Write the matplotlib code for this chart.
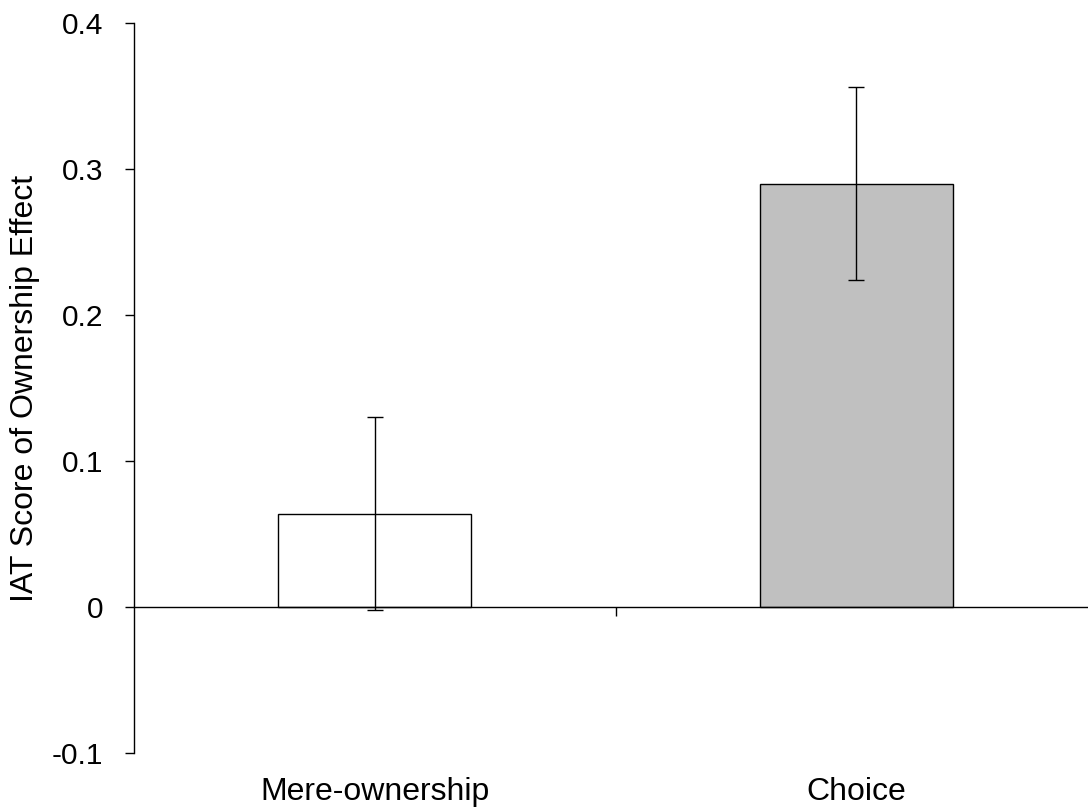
import matplotlib
matplotlib.use("Agg")
import matplotlib.pyplot as plt
import matplotlib.transforms as mtransforms

# Data
categories = ["Mere-ownership", "Choice"]
means = [0.064, 0.290]
errors = [0.066, 0.066]
bar_colors = ["#FFFFFF", "#C0C0C0"]
y_ticks = [-0.1, 0.0, 0.1, 0.2, 0.3, 0.4]
y_tick_labels = ["-0.1", "0", "0.1", "0.2", "0.3", "0.4"]
y_label = "IAT Score of Ownership Effect"

plt.rcParams["font.family"] = ["Liberation Sans", "DejaVu Sans"]
FS_TICK = 21.5
FS_LABEL = 23

fig = plt.figure(figsize=(10.88, 8.11), dpi=100)
ax = fig.add_axes([134 / 1088, 58 / 811, 963 / 1088, 730 / 811])

x = list(range(len(categories)))
ax.bar(x, means, width=0.4, color=bar_colors, edgecolor="black",
       linewidth=1.0, zorder=2)
ax.errorbar(x, means, yerr=errors, fmt="none", ecolor="black",
            elinewidth=1.0, capsize=6, capthick=1.0, zorder=3)

ax.set_xlim(-0.5, 1.5)
ax.set_ylim(-0.1, 0.4)

# Spines: left axis full height, horizontal axis through zero
for s in ["top", "right"]:
    ax.spines[s].set_visible(False)
ax.spines["bottom"].set_position(("data", 0))
ax.spines["left"].set_linewidth(1.0)
ax.spines["bottom"].set_linewidth(1.0)

ax.set_yticks(y_ticks)
ax.set_yticklabels(y_tick_labels, fontsize=FS_TICK)
ax.tick_params(axis="y", direction="out", length=6.5, width=1.0, pad=15.5)

ax.set_xticks([0.5])
ax.set_xticklabels([""])
ax.tick_params(axis="x", direction="out", length=6.5, width=1.0)

# Category labels beneath the plot area
trans = mtransforms.blended_transform_factory(ax.transData, ax.transAxes)
offset = mtransforms.ScaledTranslation(0, -47 / 100, fig.dpi_scale_trans)
for xi, name in zip(x, categories):
    ax.text(xi, 0, name, transform=trans + offset, ha="center",
            va="baseline", fontsize=FS_LABEL, clip_on=False)

ax.set_ylabel(y_label, fontsize=FS_LABEL)
ax.yaxis.set_label_coords(-0.098, 0.5)

fig.savefig("out.png", dpi=100)
